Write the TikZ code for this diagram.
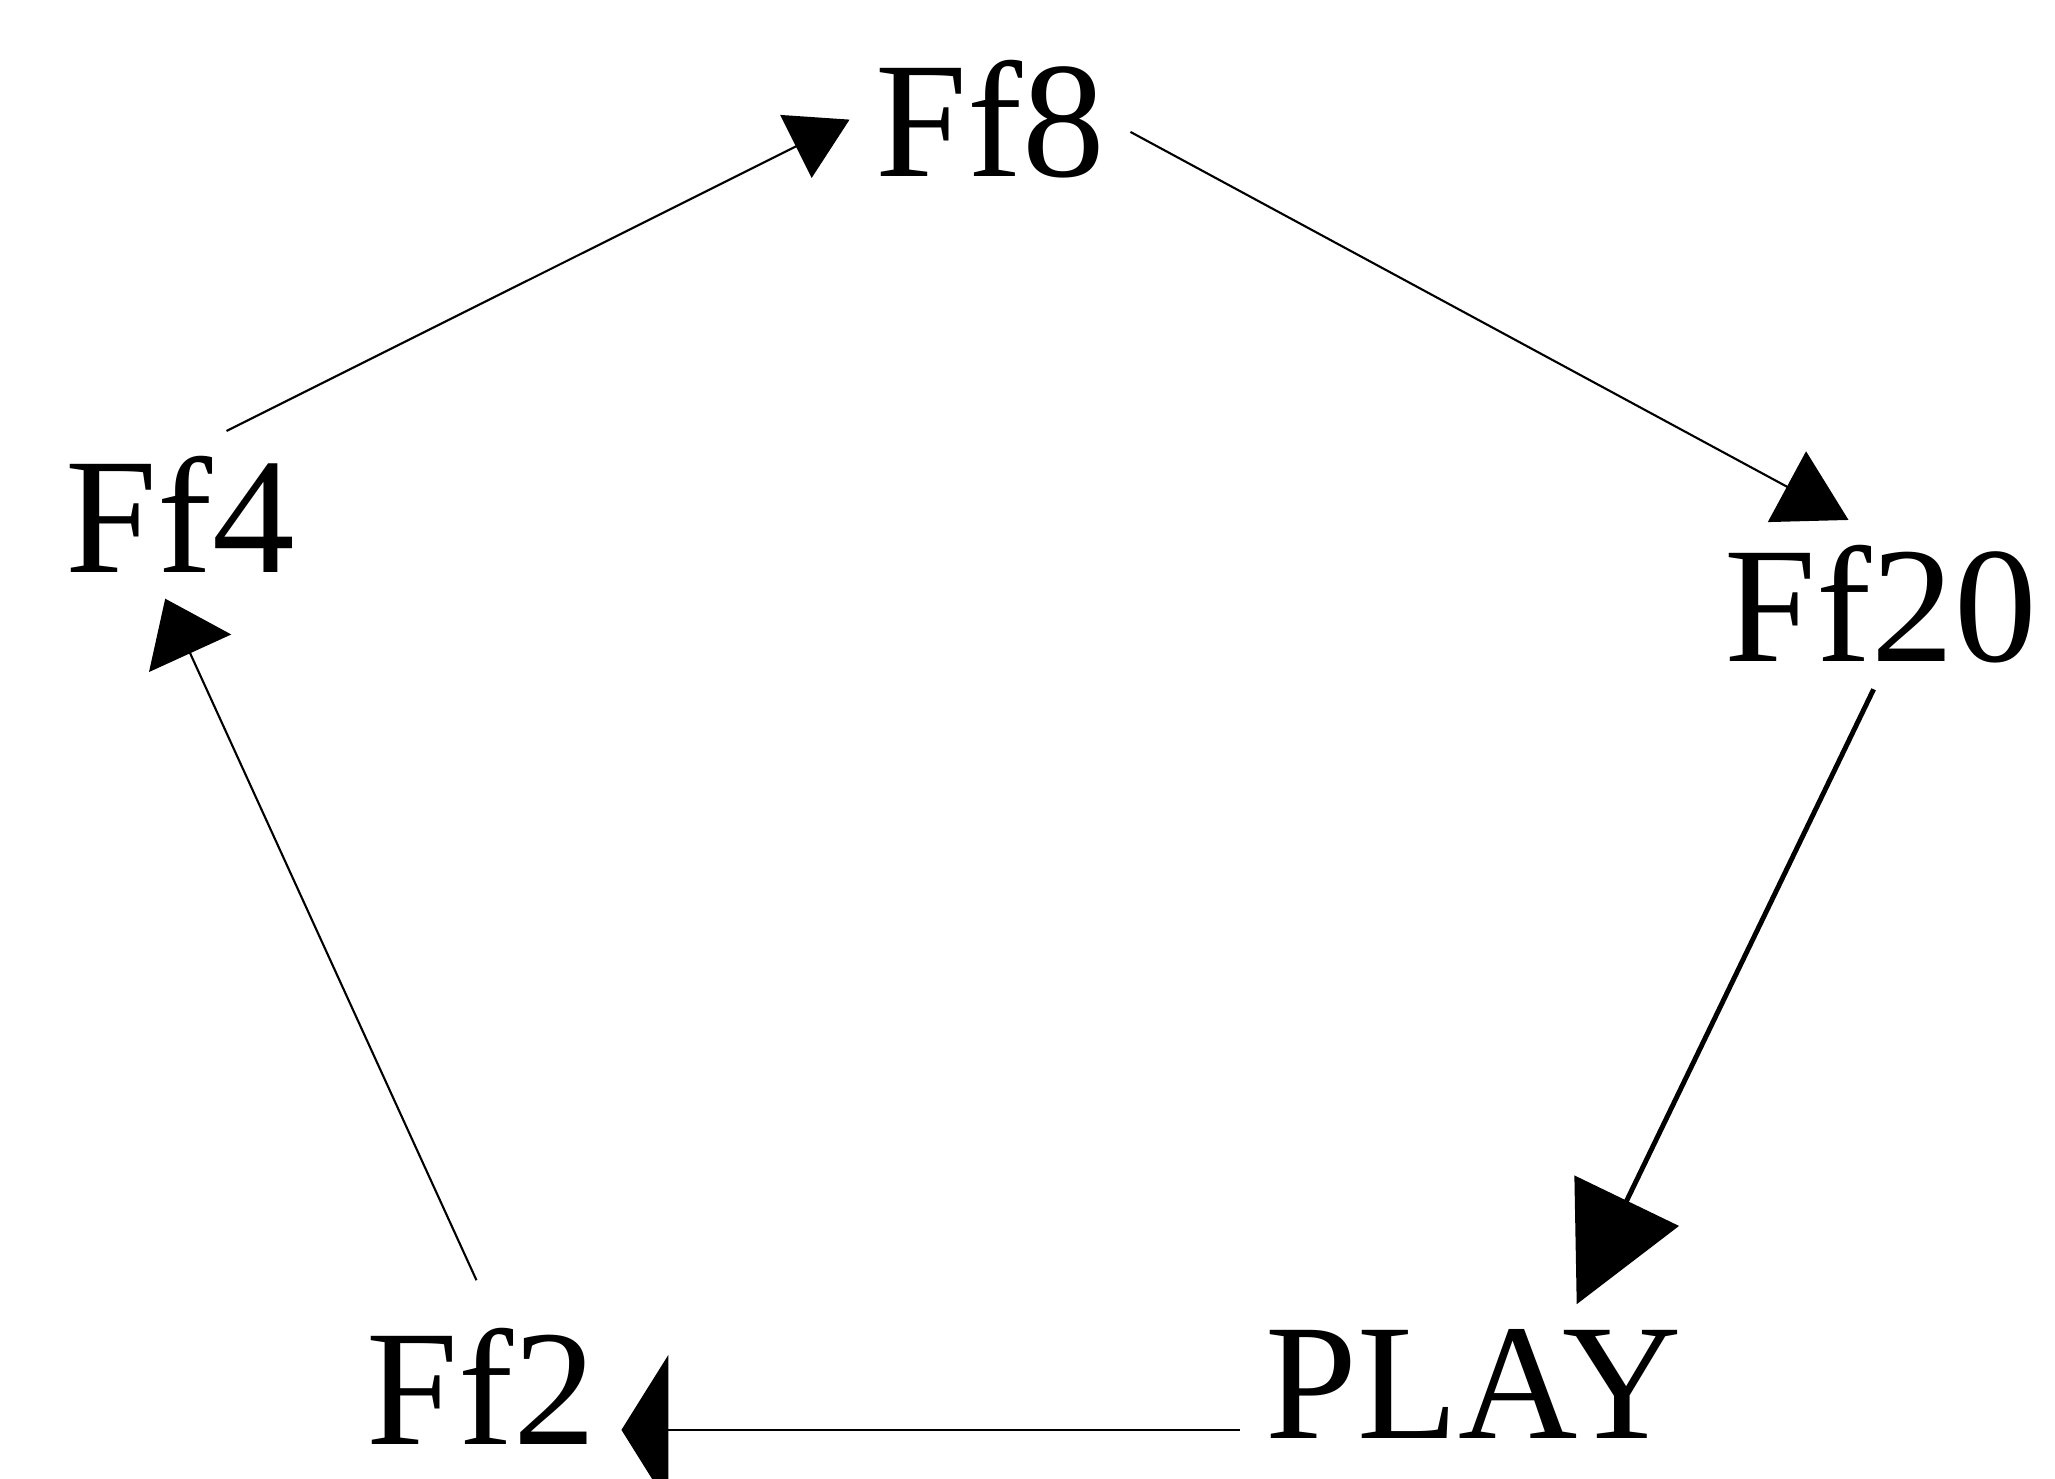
\documentclass[tikz,border=0pt]{standalone}
\usepackage{fontspec}
\setmainfont{Liberation Serif}
\usetikzlibrary{arrows.meta}
\tikzset{
  state/.style={inner sep=2.5mm, font=\fontsize{47}{56}\selectfont},
  trans/.style={-{Triangle[length=6mm, width=7mm]}, line width=0.6pt},
}
\begin{document}
\begin{tikzpicture}
  \useasboundingbox (0, 0) rectangle (20.55, 14.79);
  \node[state, anchor=base] (ff8) at (9.90, 13.02) {Ff8};
  \node[state, anchor=base] (ff4) at (1.80, 9.06) {Ff4};
  \node[state, anchor=base] (ff20) at (18.81, 8.17) {Ff20};
  \node[state, anchor=base] (play) at (14.74, 0.40) {PLAY};
  \node[state, anchor=base] (ff2) at (4.81, 0.34) {Ff2};

  \draw[trans] (ff4.61) -- (ff8.west);
  \draw[trans, -{Triangle[length=7mm, width=8mm]}] (ff8.-5) -- (ff20.111);
  \draw[trans, -{Triangle[length=11.5mm, width=11.5mm]}, line width=1.4pt] (ff20.265) -- (play.38);
  \draw[trans, -{Triangle[length=4.7mm, width=15mm]}] (play.191) -- (play.191 -| ff2.east);
  \draw[trans, -{Triangle[length=6mm, width=9mm]}, shorten <=2.5mm] (ff2.86) -- (ff4.260);
\end{tikzpicture}
\end{document}
